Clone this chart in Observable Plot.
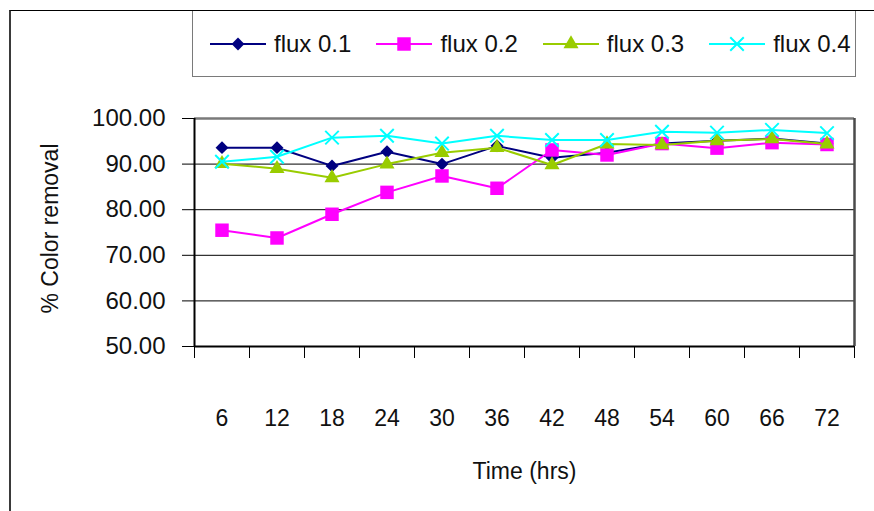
<!DOCTYPE html>
<html>
<head>
<meta charset="utf-8">
<script src="https://cdn.jsdelivr.net/npm/d3@7"></script>
<script src="https://cdn.jsdelivr.net/npm/@observablehq/plot@0.6"></script>
<style>
  html, body { margin: 0; padding: 0; background: #fff; }
  #page { position: relative; width: 874px; height: 511px; overflow: hidden;
          font-family: "Liberation Sans", Arial, sans-serif; color: #111; }
  #head { position: relative; height: 110px; }
  #legend { position: absolute; left: 192px; top: 10px; width: 664px; height: 67px;
            box-sizing: border-box; border: 1px solid #7a7a7a; background: #fff;
            display: flex; align-items: center; padding-left: 17px; gap: 25px; }
  .item { display: flex; align-items: center; font-size: 24px; line-height: 1; }
  .item svg { display: block; margin-right: 8px; }
  #chart svg { display: block; overflow: visible; }
  #frame { position: absolute; left: 9px; top: 10px; width: 900px; height: 540px;
           border-left: 2px solid #3a3a3a; border-top: 1px solid #000; pointer-events: none; }
</style>
</head>
<body>
<div id="page">
  <div id="head"><div id="legend"></div></div>
  <div id="chart"></div>
  <div id="frame"></div>
</div>
<script>
// Sampling times (hrs)
const times = [6, 12, 18, 24, 30, 36, 42, 48, 54, 60, 66, 72];

// % colour removal for each flux
const flux01 = [93.6, 93.6, 89.6, 92.7, 90.0, 94.0, 91.4, 92.5, 94.5, 95.1, 95.6, 94.5];
const flux02 = [75.5, 73.8, 79.0, 83.8, 87.4, 84.7, 93.1, 92.0, 94.5, 93.5, 94.7, 94.3];
const flux03 = [90.1, 89.0, 87.0, 90.0, 92.5, 93.6, 89.8, 94.4, 94.2, 95.1, 95.5, 94.4];
const flux04 = [90.5, 91.6, 95.8, 96.2, 94.5, 96.2, 95.3, 95.3, 97.1, 96.9, 97.5, 96.8];

const seriesNames = ["flux 0.1", "flux 0.2", "flux 0.3", "flux 0.4"];
const yTicks = [50, 60, 70, 80, 90, 100];

// Marker styling for each series
const styles = [
  {values: flux01, color: "#000080", symbol: "diamond2", d3symbol: d3.symbolDiamond2, r: 5.8, filled: true},
  {values: flux02, color: "#FF00FF", symbol: "square", d3symbol: d3.symbolSquare, r: 7.6, filled: true},
  {values: flux03, color: "#99CC00", symbol: "triangle", d3symbol: d3.symbolTriangle, r: 5.6, filled: true},
  {values: flux04, color: "#00FFFF", symbol: "times", d3symbol: d3.symbolTimes, r: 6.2, filled: false}
];

// Category boundaries: the x axis ticks sit between the time labels
const step = times[1] - times[0];
const boundaries = [...times.map(t => t - step / 2), times[times.length - 1] + step / 2];

const seriesMarks = styles.flatMap((s, k) => {
  const rows = times.map((t, i) => ({time: t, value: s.values[i], name: seriesNames[k]}));
  return [
    Plot.line(rows, {x: "time", y: "value", stroke: s.color, strokeWidth: 2}),
    Plot.dot(rows, s.filled
      ? {x: "time", y: "value", symbol: () => s.symbol, r: s.r, fill: s.color, stroke: "none"}
      : {x: "time", y: "value", symbol: () => s.symbol, r: s.r, stroke: s.color, strokeWidth: 2})
  ];
});

const chart = Plot.plot({
  width: 874,
  height: 401,
  marginLeft: 194,
  marginRight: 20,
  marginTop: 8,
  marginBottom: 165,
  x: {domain: [boundaries[0], boundaries[boundaries.length - 1]], label: null},
  y: {domain: [50, 100], label: null},
  symbol: {domain: ["diamond2", "square", "triangle", "times"], range: ["diamond2", "square", "triangle", "times"]},
  style: {fontFamily: '"Liberation Sans", Arial, sans-serif', fontSize: "24px", color: "#111", background: "transparent", overflow: "visible"},
  marks: [
    // horizontal gridlines
    Plot.ruleY(yTicks.filter(v => v > 50 && v < 100), {stroke: "#000", strokeWidth: 1}),
    // plot-area border: top and right
    Plot.ruleY([100], {stroke: "#7a7a7a", strokeWidth: 2.5}),
    Plot.ruleX([boundaries[boundaries.length - 1]], {stroke: "#4a4a4a", strokeWidth: 2.5}),
    // y axis
    Plot.axisY({ticks: yTicks, tickSize: 12, tickPadding: 17, tickFormat: d3.format(".2f"), stroke: "#000", fontSize: 24}),
    // x axis: ticks between categories, labels well below
    Plot.axisX({ticks: boundaries, tickSize: 12, tickFormat: () => "", stroke: "#000"}),
    Plot.axisX({ticks: times, tickSize: 0, tickPadding: 63, fontSize: 23}),
    ...seriesMarks,
    // axis lines
    Plot.ruleX([boundaries[0]], {stroke: "#000", strokeWidth: 2}),
    Plot.ruleY([50], {stroke: "#000", strokeWidth: 2}),
    // axis titles
    Plot.text(["% Color removal"], {text: d => d, frameAnchor: "left", textAnchor: "middle", lineAnchor: "middle", rotate: -90, dx: -144, dy: -4, fontSize: 23, fill: "#111"}),
    Plot.text(["Time (hrs)"], {text: d => d, frameAnchor: "bottom", lineAnchor: "middle", dy: 125, fontSize: 23, fill: "#111"})
  ]
});
document.getElementById("chart").appendChild(chart);

// Legend
const legend = d3.select("#legend");
styles.forEach((s, k) => {
  const item = legend.append("div").attr("class", "item");
  const svg = item.append("svg").attr("width", 56).attr("height", 20);
  svg.append("line").attr("x1", 0).attr("x2", 56).attr("y1", 10).attr("y2", 10)
    .attr("stroke", s.color).attr("stroke-width", 2);
  const path = svg.append("path")
    .attr("transform", "translate(28,10)")
    .attr("d", d3.symbol(s.d3symbol, Math.PI * s.r * s.r)());
  if (s.filled) path.attr("fill", s.color);
  else path.attr("fill", "none").attr("stroke", s.color).attr("stroke-width", 2);
  item.append("span").text(seriesNames[k]);
});
</script>
</body>
</html>
